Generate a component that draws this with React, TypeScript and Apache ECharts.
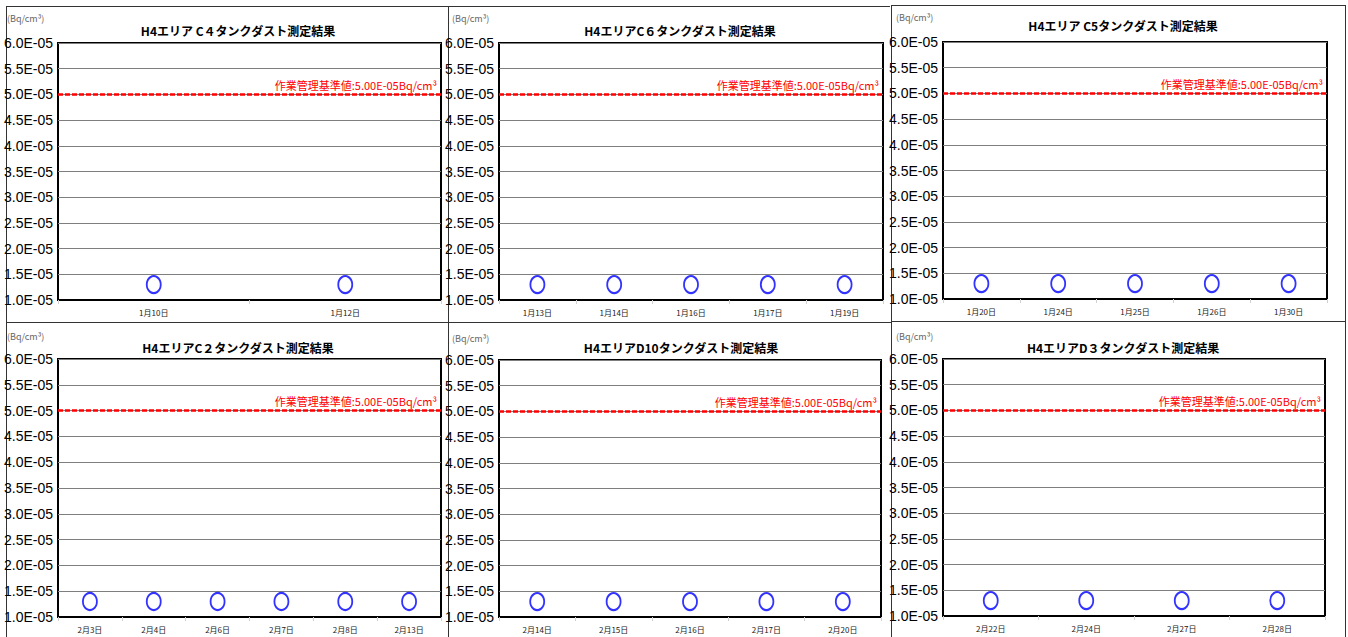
import React, { useEffect, useRef } from "react";
import * as echarts from "echarts";

// ---- data ----
const c4Title = "H4エリア C４タンクダスト測定結果";
const c4Dates = ["1月10日", "1月12日"];
const c4Values = [1.3e-5, 1.3e-5];

const c6Title = "H4エリアC６タンクダスト測定結果";
const c6Dates = ["1月13日", "1月14日", "1月16日", "1月17日", "1月19日"];
const c6Values = [1.3e-5, 1.3e-5, 1.3e-5, 1.3e-5, 1.3e-5];

const c5Title = "H4エリア C5タンクダスト測定結果";
const c5Dates = ["1月20日", "1月24日", "1月25日", "1月26日", "1月30日"];
const c5Values = [1.3e-5, 1.3e-5, 1.3e-5, 1.3e-5, 1.3e-5];

const c2Title = "H4エリアC２タンクダスト測定結果";
const c2Dates = ["2月3日", "2月4日", "2月6日", "2月7日", "2月8日", "2月13日"];
const c2Values = [1.3e-5, 1.3e-5, 1.3e-5, 1.3e-5, 1.3e-5, 1.3e-5];

const d10Title = "H4エリアD10タンクダスト測定結果";
const d10Dates = ["2月14日", "2月15日", "2月16日", "2月17日", "2月20日"];
const d10Values = [1.3e-5, 1.3e-5, 1.3e-5, 1.3e-5, 1.3e-5];

const d3Title = "H4エリアD３タンクダスト測定結果";
const d3Dates = ["2月22日", "2月24日", "2月27日", "2月28日"];
const d3Values = [1.3e-5, 1.3e-5, 1.3e-5, 1.3e-5];

const yMin = 1.0e-5;
const yMax = 6.0e-5;
const yStep = 0.5e-5;
const limitValue = 5.0e-5;
const limitLabel = "作業管理基準値:5.00E-05Bq/cm³";
const unitLabel = "(Bq/cm³)";

// ---- layout ----
const panels = [
  { title: c4Title, dates: c4Dates, values: c4Values, grid: [58, 43, 383, 257], titlePos: [238, 30], unitPos: [7, 18] },
  { title: c6Title, dates: c6Dates, values: c6Values, grid: [499, 43, 384, 257], titlePos: [680, 30], unitPos: [452, 18] },
  { title: c5Title, dates: c5Dates, values: c5Values, grid: [943, 42, 384, 257], titlePos: [1123, 25], unitPos: [896, 17] },
  { title: c2Title, dates: c2Dates, values: c2Values, grid: [58, 359, 383, 258], titlePos: [238, 347], unitPos: [7, 336] },
  { title: d10Title, dates: d10Dates, values: d10Values, grid: [499, 360, 382, 257], titlePos: [681, 347], unitPos: [452, 338] },
  { title: d3Title, dates: d3Dates, values: d3Values, grid: [943, 359, 382, 257], titlePos: [1123, 347], unitPos: [896, 336] },
];

const CJK = "'Noto Sans CJK JP', 'Noto Sans', sans-serif";
const LATIN = "'Liberation Sans', Arial, sans-serif";

function fmtSci(v: number): string {
  const s = v.toExponential(1);
  const [m, e] = s.split("e");
  const n = parseInt(e, 10);
  const sign = n < 0 ? "-" : "+";
  return m + "E" + sign + String(Math.abs(n)).padStart(2, "0");
}

export default function App() {
  const ref = useRef<HTMLDivElement>(null);
  useEffect(() => {
    if (!ref.current) return;
    const chart = echarts.init(ref.current, undefined, { renderer: "svg" });

    const grids = panels.map((p) => ({
      left: p.grid[0],
      top: p.grid[1],
      width: p.grid[2],
      height: p.grid[3],
      show: true,
      borderColor: "#000",
      borderWidth: 2,
      backgroundColor: "#fff",
      containLabel: false,
    }));

    const xAxes = panels.map((p, i) => ({
      type: "category",
      gridIndex: i,
      data: p.dates,
      boundaryGap: true,
      axisLine: { show: true, lineStyle: { color: "#000", width: 2 } },
      axisTick: { show: true, length: 4, lineStyle: { color: "#d0d0d0" } },
      axisLabel: { fontSize: 8, color: "#222", margin: 8, fontFamily: CJK },
      splitLine: { show: false },
    }));

    const yAxes = panels.map((p, i) => ({
      type: "value",
      gridIndex: i,
      min: yMin,
      max: yMax,
      interval: yStep,
      axisLine: { show: false },
      axisTick: { show: false },
      axisLabel: {
        fontSize: 14,
        color: "#000",
        margin: 5,
        fontFamily: LATIN,
        formatter: (v: number) => fmtSci(v),
      },
      splitLine: { show: true, lineStyle: { color: "#7f7f7f", width: 1 } },
    }));

    const series = panels.map((p, i) => ({
      type: "scatter",
      xAxisIndex: i,
      yAxisIndex: i,
      data: p.values,
      symbol: "circle",
      symbolSize: [14, 17],
      itemStyle: { color: "rgba(0,0,0,0)", borderColor: "#0000ff", borderWidth: 2 },
      silent: true,
      markLine: {
        silent: true,
        precision: 12,
        symbol: ["none", "none"],
        data: [{ yAxis: limitValue }],
        lineStyle: { color: "#ff0000", type: [5, 2], width: 2.5 },
        label: {
          show: true,
          position: "insideEndTop",
          formatter: limitLabel,
          color: "#ff0000",
          fontSize: 11,
          fontFamily: CJK,
          distance: [4, 4],
        },
      },
    }));

    const textEls: any[] = [];
    panels.forEach((p) => {
      textEls.push({
        type: "text",
        x: p.titlePos[0],
        y: p.titlePos[1],
        style: {
          text: p.title,
          fill: "#000",
          font: `bold 12px ${CJK}`,
          align: "center",
          verticalAlign: "middle",
          textAlign: "center",
          textVerticalAlign: "middle",
        },
      });
      textEls.push({
        type: "text",
        x: p.unitPos[0],
        y: p.unitPos[1],
        style: {
          text: unitLabel,
          fill: "#666",
          font: `9px ${CJK}`,
          align: "left",
          verticalAlign: "middle",
          textAlign: "left",
          textVerticalAlign: "middle",
        },
      });
    });

    const borderLine = (x1: number, y1: number, x2: number, y2: number) => ({
      type: "line",
      shape: { x1, y1, x2, y2 },
      style: { stroke: "#333", lineWidth: 1 },
      silent: true,
    });
    const borders = [
      borderLine(6, 6.5, 890, 6.5),
      borderLine(891, 5.5, 1346, 5.5),
      borderLine(6.5, 6, 6.5, 637),
      borderLine(448.5, 6, 448.5, 637),
      borderLine(891.5, 5, 891.5, 637),
      borderLine(1345.5, 5, 1345.5, 637),
      borderLine(6, 322.5, 891, 322.5),
      borderLine(891, 321.5, 1346, 321.5),
    ];

    chart.setOption({
      animation: false,
      backgroundColor: "#fff",
      grid: grids,
      xAxis: xAxes,
      yAxis: yAxes,
      series,
      graphic: { elements: [...borders, ...textEls] },
    });

    return () => chart.dispose();
  }, []);

  return (
    <div
      ref={ref}
      style={{ position: "absolute", left: 0, top: 0, width: 1348, height: 637, background: "#fff" }}
    />
  );
}
